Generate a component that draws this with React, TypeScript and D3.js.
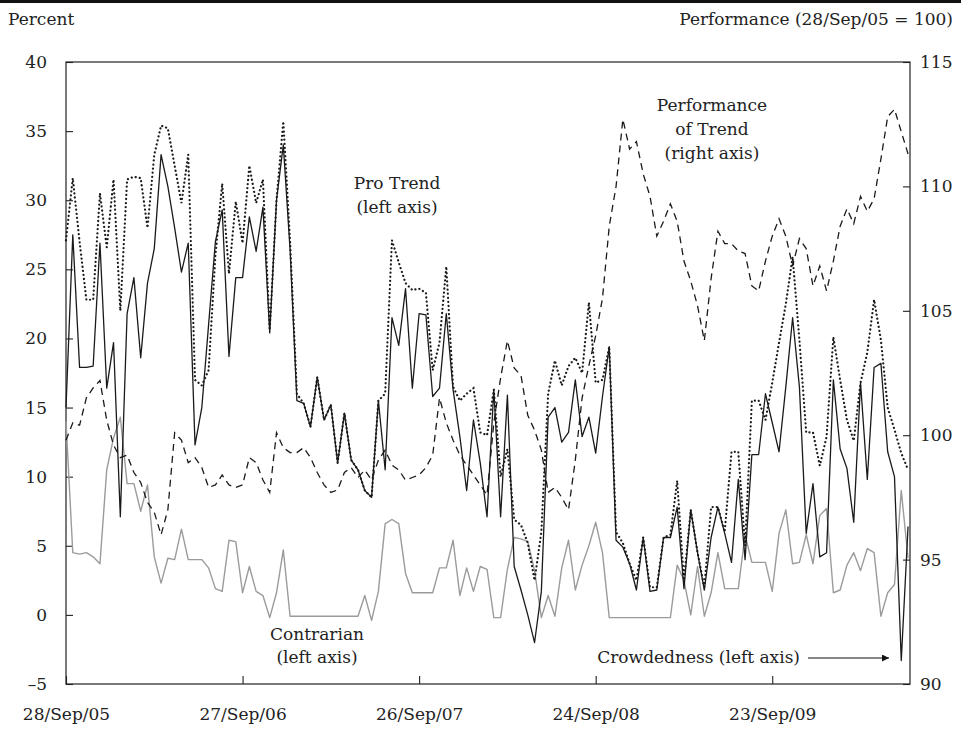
import React, { useEffect, useRef } from 'react';
import * as d3 from 'd3';

// fortnightly observations starting 28/Sep/05
const startDate = new Date(2005, 8, 28);
const endDate = new Date(2010, 6, 4);

const tickDates = [
  new Date(2005, 8, 28),
  new Date(2006, 8, 27),
  new Date(2007, 8, 26),
  new Date(2008, 8, 24),
  new Date(2009, 8, 23),
];
const tickLabels = ['28/Sep/05', '27/Sep/06', '26/Sep/07', '24/Sep/08', '23/Sep/09'];

const leftTicks = [-5, 0, 5, 10, 15, 20, 25, 30, 35, 40];
const rightTicks = [90, 95, 100, 105, 110, 115];

const crowdedness = [
  15, 27.5, 17.9, 17.9, 18, 26.9, 16.4, 19.7, 7.1, 21.8,
  24.4, 18.6, 24, 26.5, 33.3, 31, 28, 24.8, 26.9, 12.3,
  15, 21, 27, 29.3, 18.7, 24.4, 24.4, 28.8, 26.3, 29.5,
  20.4, 30, 34, 26.4, 15.5, 15.3, 13.6, 17.2, 14.1, 15.2,
  11, 14.6, 11.2, 10.5, 9, 8.5, 15.5, 10.5, 21.5, 19.5,
  23.6, 16.4, 21.8, 21.7, 15.8, 16.4, 21.8, 16.3, 12.9, 9,
  14.1, 11, 7.1, 16.3, 7.1, 15.9, 3.5, 1.8, 0, -2,
  1.7, 14.3, 15, 12.5, 13.2, 17, 12.9, 14.3, 11.7, 15.8,
  19.4, 5.4, 4.9, 3.7, 1.8, 5.6, 1.7, 1.8, 5.6, 5.6,
  7.8, 1.9, 7.6, 4.5, 1.8, 5.6, 7.8, 5.9, 3.8, 9.8,
  4, 11.6, 11.6, 16, 13.9, 11.8, 16.5, 21.5, 16.5, 5.9,
  9.5, 4.2, 4.5, 17, 12, 10.6, 6.7, 16.8, 9.8, 17.9,
  18.2, 11.8, 10, -3.3, 6.4,
];

const proTrend = [
  27.1, 31.6, 27, 22.8, 22.8, 30.5, 26.6, 31.5, 22, 31.5,
  31.7, 31.6, 28, 33.3, 35.4, 35.2, 32.5, 29.8, 33.3, 17,
  16.6, 17.7, 26, 31.2, 24.7, 29.9, 26.9, 32.5, 29.8, 31.5,
  20.6, 30, 35.7, 27, 16, 15.3, 13.6, 17.2, 14.1, 15.2,
  11, 14.6, 11.2, 10.5, 9, 8.5, 15.5, 16, 27.1, 25.5,
  24, 23.5, 23.6, 23.3, 17.7, 19.7, 25.2, 16.5, 15.5, 16,
  16.4, 13.2, 13, 16.3, 10, 12, 6.9, 6.5, 5.2, 2.5,
  6, 16, 18.4, 16.6, 18, 18.6, 17.5, 22.6, 16.8, 17,
  19.4, 6, 5.2, 3.7, 2.5, 5.6, 2, 2, 5.6, 5.8,
  9.7, 2.5, 7.6, 4.5, 2, 7.8, 7.8, 6, 11.8, 11.8,
  5, 15.5, 15.5, 14.1, 16.8, 19.7, 22.5, 25.9, 19.9, 13.2,
  13.2, 10.8, 12.9, 20.1, 17, 14.1, 12.6, 16.8, 19, 22.8,
  19.9, 15, 13.4, 11.7, 10.5,
];

const contrarian = [
  14, 4.5, 4.4, 4.5, 4.2, 3.7, 10.5, 12.8, 14.3, 9.5,
  9.5, 7.5, 9.4, 4.2, 2.3, 4.1, 4, 6.2, 4, 4,
  4, 3.4, 1.9, 1.7, 5.4, 5.3, 1.6, 3.5, 1.7, 1.4,
  -0.2, 1.6, 4.7, -0.1, -0.1, -0.1, -0.1, -0.1, -0.1, -0.1,
  -0.1, -0.1, -0.1, -0.1, 1.4, -0.4, 1.7, 6.6, 6.9, 6.6,
  3, 1.6, 1.6, 1.6, 1.6, 3.4, 3.4, 5.4, 1.4, 3.4,
  1.7, 3.5, 3.3, -0.2, -0.2, 3.3, 5.6, 5.5, 5.3, 3.2,
  -0.2, 1.4, -0.1, 3.4, 5.4, 1.8, 3.6, 5, 6.7, 4.5,
  -0.2, -0.2, -0.2, -0.2, -0.2, -0.2, -0.2, -0.2, -0.2, -0.2,
  3.6, 2.5, 0, 3.5, -0.1, 1.6, 4.5, 1.9, 1.9, 1.9,
  5.8, 3.8, 3.8, 3.8, 1.7, 5.9, 7.6, 3.7, 3.8, 5.8,
  3.7, 7.2, 7.7, 1.6, 1.8, 3.6, 4.5, 3.2, 4.8, 4.5,
  -0.1, 1.6, 2.2, 9, 4.1,
];

const performance = [
  99.8, 100.5, 100.4, 101.5, 101.9, 102.2, 100.6, 99.6, 99.1, 99.2,
  98.5, 98.1, 97.3, 96.9, 96, 97, 100.1, 99.8, 98.9, 99.1,
  98.7, 97.9, 98, 98.4, 98, 97.9, 98, 99.1, 98.9, 98.2,
  97.7, 100.1, 99.5, 99.3, 99.3, 99.5, 99.1, 98.5, 98, 97.7,
  97.8, 98.5, 98.7, 98.3, 98.6, 98.2, 99, 99.4, 98.8, 98.6,
  98.2, 98.3, 98.4, 98.7, 99.2, 101.5, 100.5, 99.8, 99.2, 98.8,
  98.4, 98, 97.6, 100.5, 102.3, 103.8, 102.7, 102.4, 100.8, 100.2,
  99.4, 97.7, 97.9, 97.5, 97, 99, 101.5, 102.8, 104, 105.5,
  108.4, 110, 112.7, 111.5, 111.8, 110.5, 109.6, 108, 108.6, 109.3,
  108.6, 107, 106.2, 105.2, 103.8, 106.3, 108.2, 107.7, 107.7, 107.4,
  107.3, 106, 105.8, 107, 108, 108.7, 108, 106.8, 107.9, 107.5,
  106, 106.8, 105.8, 107, 108.4, 109.1, 108.5, 109.6, 109, 109.5,
  111.1, 112.8, 113.1, 112.2, 111.3,
];

const FONT = '"DejaVu Serif", serif';

export default function App() {
  const svgRef = useRef<SVGSVGElement>(null);

  useEffect(() => {
    if (!svgRef.current) return;
    drawChart();
  }, []);

  const drawChart = () => {
    const svg = d3.select(svgRef.current);
    svg.selectAll('*').remove();

    const W = 961;
    const H = 730;
    const margin = { top: 62, right: 51, bottom: 46, left: 66 };
    const width = W - margin.left - margin.right;
    const height = H - margin.top - margin.bottom;

    svg.attr('width', W).attr('height', H);

    // rule across the top of the page
    svg.append('rect').attr('x', 0).attr('y', 0).attr('width', W).attr('height', 3).attr('fill', '#111');

    const g = svg.append('g').attr('transform', `translate(${margin.left},${margin.top})`);

    const dates = crowdedness.map((_, i) => d3.timeDay.offset(startDate, 14 * i));

    // Scales
    const x = d3.scaleTime().domain([startDate, endDate]).range([0, width]);
    const yL = d3.scaleLinear().domain([-5, 40]).range([height, 0]);
    const yR = d3.scaleLinear().domain([90, 115]).range([height, 0]);

    const fmt = (d: any) => (d < 0 ? `\u2013${Math.abs(d)}` : `${d}`);

    // Axes
    const axL = g
      .append('g')
      .call(d3.axisLeft(yL).tickValues(leftTicks).tickSize(-7).tickPadding(19).tickFormat(fmt as any));
    const axR = g
      .append('g')
      .attr('transform', `translate(${width},0)`)
      .call(d3.axisRight(yR).tickValues(rightTicks).tickSize(-7).tickPadding(10));
    const axB = g
      .append('g')
      .attr('transform', `translate(0,${height})`)
      .call(
        d3
          .axisBottom(x)
          .tickValues(tickDates)
          .tickSize(-8)
          .tickPadding(24)
          .tickFormat((_d: any, i: number) => tickLabels[i]) as any
      );

    [axL, axR, axB].forEach((ax) => {
      ax.select('.domain').remove();
      ax.selectAll('line').attr('stroke', '#222').attr('stroke-width', 1.1);
      ax.selectAll('text').style('font-family', FONT).style('font-size', '17px').style('fill', '#222');
    });

    // frame
    g.append('rect')
      .attr('x', 0)
      .attr('y', 0)
      .attr('width', width)
      .attr('height', height)
      .attr('fill', 'none')
      .attr('stroke', '#222')
      .attr('stroke-width', 1.2);

    const lineL = d3
      .line<number>()
      .x((_d, i) => x(dates[i]))
      .y((d) => yL(d));
    const lineR = d3
      .line<number>()
      .x((_d, i) => x(dates[i]))
      .y((d) => yR(d));

    // Contrarian
    g.append('path')
      .datum(contrarian)
      .attr('fill', 'none')
      .attr('stroke', '#9b9b9b')
      .attr('stroke-width', 1.4)
      .attr('stroke-linejoin', 'round')
      .attr('d', lineL);

    // Performance of Trend
    g.append('path')
      .datum(performance)
      .attr('fill', 'none')
      .attr('stroke', '#1a1a1a')
      .attr('stroke-width', 1.3)
      .attr('stroke-dasharray', '7 5')
      .attr('d', lineR);

    // Pro Trend
    g.append('path')
      .datum(proTrend)
      .attr('fill', 'none')
      .attr('stroke', '#1a1a1a')
      .attr('stroke-width', 2.2)
      .attr('stroke-linecap', 'round')
      .attr('stroke-dasharray', '0.1 4')
      .attr('d', lineL);

    // Crowdedness
    g.append('path')
      .datum(crowdedness)
      .attr('fill', 'none')
      .attr('stroke', '#1a1a1a')
      .attr('stroke-width', 1.3)
      .attr('stroke-linejoin', 'round')
      .attr('d', lineL);

    // Labels
    const label = (tx: number, ty: number, s: string, anchor = 'middle') =>
      svg
        .append('text')
        .attr('x', tx)
        .attr('y', ty)
        .attr('text-anchor', anchor)
        .style('font-family', FONT)
        .style('font-size', '17px')
        .style('fill', '#222')
        .text(s);

    label(8, 25, 'Percent', 'start');
    label(953, 25, 'Performance (28/Sep/05 = 100)', 'end');
    label(397, 189, 'Pro Trend');
    label(397, 213, '(left axis)');
    label(712, 111, 'Performance');
    label(712, 135, 'of Trend');
    label(712, 159, '(right axis)');
    label(317, 640, 'Contrarian');
    label(317, 663, '(left axis)');
    label(800, 663, 'Crowdedness (left axis)', 'end');

    // arrow pointing at the last crowdedness dip
    const defs = svg.append('defs');
    defs
      .append('marker')
      .attr('id', 'arrowhead')
      .attr('viewBox', '0 0 10 10')
      .attr('refX', 10)
      .attr('refY', 5)
      .attr('markerWidth', 9)
      .attr('markerHeight', 7)
      .attr('markerUnits', 'userSpaceOnUse')
      .attr('orient', 'auto')
      .append('path')
      .attr('d', 'M0,0 L10,5 L0,10 z')
      .attr('fill', '#111');

    svg
      .append('line')
      .attr('x1', 808)
      .attr('y1', 658)
      .attr('x2', 889)
      .attr('y2', 658)
      .attr('stroke', '#111')
      .attr('stroke-width', 1.2)
      .attr('marker-end', 'url(#arrowhead)');
  };

  return (
    <div>
      <svg ref={svgRef} style={{ position: 'absolute', left: 0, top: 0, background: '#fff' }}></svg>
    </div>
  );
}
